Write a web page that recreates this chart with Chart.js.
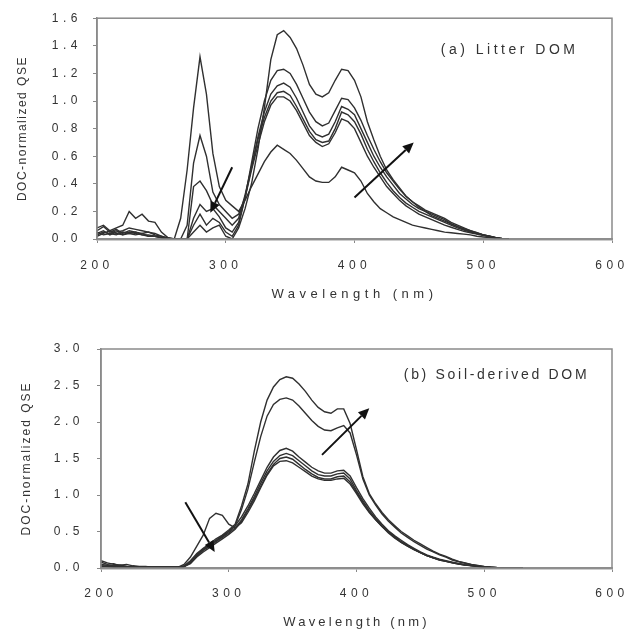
<!DOCTYPE html>
<html>
<head>
<meta charset="utf-8">
<script src="https://cdn.jsdelivr.net/npm/chart.js@4.4.1/dist/chart.umd.min.js"></script>
<style>
body { margin: 0; background: #fff; }
#wrapA { position: absolute; left: 0; top: 0; width: 642px; height: 320px; }
#wrapB { position: absolute; left: 0; top: 320px; width: 642px; height: 310px; }
</style>
</head>
<body>
<div id="wrapA"><canvas id="graphA" width="642" height="320"></canvas></div>
<div id="wrapB"><canvas id="graphB" width="642" height="310"></canvas></div>
<script>
// ---- (a) Litter DOM ----
var wlA = [200,205,210,215,220,225,230,235,240,245,250,255,260,265,270,275,280,285,290,295,
           300,305,310,315,320,325,330,335,340,345,350,355,360,365,370,375,380,385,390,395,
           400,405,410,415,420,425,430,435,440,445,450,455,460,465,470,475,480,485,490,495,
           500,505,510,515,520];
var litter1 = [0.06,0.09,0.05,0.07,0.04,0.06,0.05,0.04,0.05,0.03,0.02,0,0,0.15,0.50,0.95,1.32,1.05,0.62,0.38,
               0.28,0.24,0.20,0.28,0.38,0.47,0.56,0.63,0.68,0.65,0.62,0.57,0.51,0.45,0.42,0.41,0.41,0.45,0.52,0.50,
               0.48,0.42,0.33,0.27,0.22,0.19,0.16,0.14,0.12,0.10,0.09,0.08,0.07,0.06,0.05,0.045,0.04,0.035,0.03,0.02,
               0.015,0.01,0.005,0,0];
var litter2 = [0.03,0.05,0.04,0.03,0.05,0.04,0.03,0.04,0.02,0.02,0.01,0,0,0,0.10,0.55,0.75,0.60,0.34,0.25,
               0.20,0.15,0.18,0.30,0.50,0.68,0.85,0.97,1.03,1.03,1.00,0.93,0.84,0.75,0.70,0.67,0.69,0.77,0.87,0.85,
               0.80,0.70,0.60,0.52,0.45,0.38,0.33,0.28,0.24,0.21,0.18,0.16,0.14,0.12,0.10,0.085,0.07,0.055,0.045,0.035,
               0.025,0.015,0.008,0.002,0];
var litter3 = [0.02,0.04,0.06,0.04,0.03,0.05,0.04,0.03,0.03,0.02,0.01,0,0,0,0,0.38,0.42,0.35,0.25,0.20,
               0.15,0.10,0.15,0.32,0.52,0.72,0.88,1.00,1.06,1.07,1.04,0.96,0.87,0.78,0.72,0.70,0.71,0.80,0.92,0.90,
               0.85,0.76,0.65,0.56,0.48,0.41,0.35,0.30,0.26,0.23,0.20,0.18,0.16,0.14,0.12,0.10,0.08,0.065,0.05,0.04,
               0.03,0.018,0.008,0.002,0];
var litter4 = [0.05,0.03,0.04,0.06,0.03,0.04,0.05,0.03,0.02,0.02,0.01,0,0,0,0,0.15,0.25,0.20,0.22,0.16,
               0.08,0.05,0.12,0.30,0.52,0.74,0.92,1.05,1.11,1.13,1.10,1.02,0.92,0.82,0.76,0.74,0.76,0.85,0.96,0.94,
               0.90,0.80,0.70,0.60,0.52,0.45,0.39,0.33,0.29,0.25,0.22,0.20,0.18,0.16,0.14,0.11,0.09,0.07,0.055,0.04,
               0.03,0.02,0.01,0.003,0];
var litter5 = [0.04,0.06,0.03,0.05,0.06,0.08,0.07,0.06,0.05,0.04,0.02,0.01,0,0,0,0.10,0.18,0.10,0.15,0.12,
               0.05,0.02,0.10,0.30,0.55,0.80,1.00,1.15,1.22,1.23,1.20,1.12,1.02,0.92,0.85,0.82,0.84,0.93,1.02,1.01,
               0.95,0.86,0.75,0.65,0.56,0.48,0.42,0.36,0.31,0.27,0.24,0.21,0.19,0.17,0.15,0.12,0.10,0.08,0.06,0.045,
               0.03,0.02,0.01,0.003,0];
var litter6 = [0.08,0.10,0.06,0.08,0.10,0.20,0.15,0.18,0.13,0.12,0.05,0.01,0,0,0,0.05,0.10,0.05,0.08,0.10,
               0.02,0,0.08,0.22,0.40,0.65,0.95,1.30,1.48,1.51,1.46,1.38,1.26,1.12,1.05,1.03,1.06,1.15,1.23,1.22,
               1.15,1.03,0.85,0.72,0.60,0.50,0.43,0.37,0.31,0.27,0.23,0.20,0.17,0.15,0.13,0.11,0.09,0.075,0.06,0.045,
               0.03,0.02,0.008,0.002,0];

// ---- (b) Soil-derived DOM ----
var wlB = [200,205,210,215,220,225,230,235,240,245,250,255,260,265,270,275,280,285,290,295,
           300,305,310,315,320,325,330,335,340,345,350,355,360,365,370,375,380,385,390,395,
           400,405,410,415,420,425,430,435,440,445,450,455,460,465,470,475,480,485,490,495,
           500,505,510,515,520,525,530];
var soil1 = [0.08,0.05,0.06,0.03,0.02,0.02,0.01,0.01,0.01,0.01,0.01,0.01,0.01,0.03,0.10,0.20,0.27,0.33,0.40,0.45,
             0.52,0.60,0.85,1.15,1.60,2.00,2.30,2.48,2.58,2.62,2.60,2.52,2.42,2.30,2.20,2.14,2.12,2.18,2.18,1.98,
             1.62,1.25,1.02,0.88,0.76,0.66,0.58,0.50,0.44,0.38,0.33,0.28,0.23,0.19,0.16,0.12,0.09,0.07,0.05,0.035,
             0.02,0.012,0.006,0.002,0,0,0];
var soil2 = [0.05,0.04,0.03,0.04,0.02,0.01,0.01,0.01,0.01,0.01,0.01,0.01,0.01,0.02,0.08,0.18,0.25,0.31,0.37,0.43,
             0.50,0.58,0.80,1.08,1.45,1.80,2.08,2.24,2.31,2.33,2.30,2.22,2.12,2.02,1.94,1.89,1.88,1.92,1.95,1.85,
             1.55,1.22,1.00,0.86,0.74,0.64,0.56,0.48,0.42,0.36,0.31,0.26,0.22,0.18,0.15,0.11,0.085,0.065,0.045,0.03,
             0.018,0.01,0.005,0.002,0,0,0];
var soil3 = [0.03,0.02,0.02,0.01,0.01,0.01,0.01,0.01,0.01,0.01,0.01,0.01,0.01,0.02,0.08,0.18,0.26,0.32,0.38,0.44,
             0.50,0.58,0.70,0.85,1.02,1.20,1.38,1.52,1.61,1.64,1.60,1.52,1.45,1.38,1.33,1.30,1.30,1.33,1.34,1.26,
             1.10,0.95,0.82,0.70,0.60,0.51,0.44,0.38,0.32,0.27,0.22,0.18,0.15,0.12,0.10,0.08,0.06,0.045,0.035,0.025,
             0.015,0.01,0.005,0.002,0,0,0];
var soil4 = [0.02,0.03,0.02,0.02,0.01,0.01,0.01,0.01,0.01,0.01,0.01,0.01,0.01,0.02,0.07,0.16,0.24,0.30,0.36,0.42,
             0.48,0.55,0.66,0.81,0.98,1.16,1.33,1.46,1.54,1.57,1.54,1.47,1.40,1.33,1.28,1.26,1.26,1.29,1.30,1.22,
             1.06,0.92,0.79,0.68,0.58,0.50,0.43,0.36,0.31,0.26,0.21,0.17,0.14,0.115,0.095,0.075,0.058,0.043,0.033,0.023,
             0.014,0.009,0.004,0.001,0,0,0];
var soil5 = [0.02,0.02,0.01,0.01,0.01,0.01,0.01,0.01,0.01,0.01,0.01,0.01,0.01,0.02,0.06,0.15,0.22,0.28,0.34,0.40,
             0.46,0.53,0.64,0.79,0.95,1.12,1.29,1.42,1.50,1.52,1.49,1.42,1.35,1.29,1.24,1.22,1.22,1.25,1.26,1.18,
             1.04,0.90,0.77,0.66,0.57,0.49,0.42,0.35,0.30,0.25,0.21,0.17,0.14,0.11,0.09,0.07,0.055,0.042,0.032,0.022,
             0.013,0.008,0.004,0.001,0,0,0];
var soil6 = [0.10,0.07,0.05,0.04,0.05,0.03,0.02,0.02,0.01,0.01,0.01,0.01,0.01,0.05,0.15,0.30,0.45,0.68,0.75,0.72,
             0.60,0.55,0.62,0.76,0.92,1.10,1.27,1.40,1.46,1.47,1.44,1.38,1.32,1.26,1.22,1.20,1.20,1.22,1.23,1.15,
             1.02,0.88,0.76,0.66,0.57,0.48,0.41,0.35,0.30,0.25,0.21,0.17,0.14,0.11,0.09,0.07,0.055,0.04,0.03,0.02,
             0.013,0.008,0.004,0.001,0,0,0];

// arrows: [x from, y from, x to, y to] in data units
var arrowsA = [[305, 0.52, 288, 0.19], [400, 0.30, 446, 0.70]];
var arrowsB = [[266, 0.90, 289, 0.22], [373, 1.55, 410, 2.19]];

var xTitle = 'Wavelength (nm)';
var yTitle = 'DOC-normalized QSE';
var fontFam = '"Liberation Sans", Arial, sans-serif';

function toPoints(wl, vals) {
    return wl.map(function (w, i) { return { x: w, y: vals[i] }; });
}

var decoPlugin = {
    id: 'deco',
    beforeDraw: function (chart) {
        chart.ctx.letterSpacing = chart.options.plugins.deco.tickSpacing;
    },
    afterDraw: function (chart) {
        var o = chart.options.plugins.deco;
        var ctx = chart.ctx, a = chart.chartArea;
        var xs = chart.scales.x, ys = chart.scales.y;
        ctx.save();
        // frame
        ctx.letterSpacing = '0px';
        ctx.strokeStyle = '#8a8a8a';
        ctx.lineWidth = 1.5;
        ctx.strokeRect(a.left, a.top, a.right - a.left, a.bottom - a.top);
        // arrows
        ctx.strokeStyle = '#111';
        ctx.fillStyle = '#111';
        ctx.lineWidth = 2;
        o.arrows.forEach(function (ar) {
            var x1 = xs.getPixelForValue(ar[0]), y1 = ys.getPixelForValue(ar[1]);
            var x2 = xs.getPixelForValue(ar[2]), y2 = ys.getPixelForValue(ar[3]);
            var ang = Math.atan2(y2 - y1, x2 - x1), h = 11, w = 5;
            var bx = x2 - h * Math.cos(ang), by = y2 - h * Math.sin(ang);
            ctx.beginPath();
            ctx.moveTo(x1, y1);
            ctx.lineTo(bx, by);
            ctx.stroke();
            ctx.beginPath();
            ctx.moveTo(x2, y2);
            ctx.lineTo(bx + w * Math.sin(ang), by - w * Math.cos(ang));
            ctx.lineTo(bx - w * Math.sin(ang), by + w * Math.cos(ang));
            ctx.closePath();
            ctx.fill();
        });
        // panel label
        ctx.fillStyle = '#333';
        ctx.textBaseline = 'middle';
        ctx.textAlign = 'left';
        ctx.font = '14px ' + fontFam;
        ctx.letterSpacing = o.labelSpacing;
        ctx.fillText(o.label, xs.getPixelForValue(o.labelAt[0]), ys.getPixelForValue(o.labelAt[1]));
        // x title
        ctx.textAlign = 'center';
        ctx.font = '13px ' + fontFam;
        ctx.letterSpacing = o.xTitleSpacing;
        ctx.fillText(xTitle, (a.left + a.right) / 2, o.xTitleY);
        // y title
        ctx.translate(o.yTitleX, (a.top + a.bottom) / 2);
        ctx.rotate(-Math.PI / 2);
        ctx.font = '12px ' + fontFam;
        ctx.letterSpacing = o.yTitleSpacing;
        ctx.fillText(yTitle, 0, 0);
        ctx.restore();
        ctx.letterSpacing = '0px';
    }
};

function makeChart(id, wl, series, yMax, yStep, lay) {
    var ctx = document.getElementById(id);
    return new Chart(ctx, {
        type: 'line',
        data: {
            datasets: series.map(function (s) {
                return {
                    data: toPoints(wl, s),
                    borderColor: '#303030',
                    borderWidth: 1.4,
                    pointRadius: 0,
                    tension: 0,
                    fill: false
                };
            })
        },
        plugins: [decoPlugin],
        options: {
            responsive: false,
            animation: false,
            events: [],
            layout: { padding: { left: 0, right: 642 - lay.right, top: lay.top, bottom: 0 } },
            plugins: {
                legend: { display: false },
                tooltip: { enabled: false },
                deco: {
                    tickSpacing: '4.5px',
                    arrows: lay.arrows,
                    label: lay.label,
                    labelAt: lay.labelAt,
                    labelSpacing: lay.labelSpacing,
                    xTitleY: lay.xTitleY,
                    xTitleSpacing: lay.xTitleSpacing,
                    yTitleX: lay.yTitleX,
                    yTitleSpacing: lay.yTitleSpacing
                }
            },
            scales: {
                x: {
                    type: 'linear',
                    min: 200,
                    max: 600,
                    afterFit: function (scale) { scale.height = lay.canvasH - lay.bottom; },
                    ticks: { stepSize: 100, color: '#333', font: { size: 12, family: fontFam }, padding: lay.xTickPad, maxRotation: 0 },
                    grid: { drawOnChartArea: false, drawTicks: true, tickLength: 4, color: '#888' },
                    border: { color: '#999', width: 2.5 }
                },
                y: {
                    min: 0,
                    max: yMax,
                    afterFit: function (scale) { scale.width = lay.left; },
                    ticks: {
                        stepSize: yStep,
                        color: '#333',
                        font: { size: 12, family: fontFam },
                        padding: lay.yTickPad,
                        callback: function (v) { return v.toFixed(1); }
                    },
                    grid: { drawOnChartArea: false, drawTicks: true, tickLength: 4, color: '#888' },
                    border: { color: '#888', width: 1.5 }
                }
            }
        }
    });
}

makeChart('graphA', wlA, [litter1, litter2, litter3, litter4, litter5, litter6], 1.6, 0.2, {
    canvasH: 320, left: 97, right: 612, top: 16, bottom: 239,
    xTickPad: 15, yTickPad: 11, arrows: arrowsA,
    label: '(a) Litter DOM', labelAt: [467, 1.37], labelSpacing: '3.5px',
    xTitleY: 294, xTitleSpacing: '4.5px', yTitleX: 23, yTitleSpacing: '1.5px'
});

makeChart('graphB', wlB, [soil1, soil2, soil3, soil4, soil5, soil6], 3.0, 0.5, {
    canvasH: 310, left: 101, right: 612, top: 29, bottom: 248,
    xTickPad: 14, yTickPad: 13, arrows: arrowsB,
    label: '(b) Soil-derived DOM', labelAt: [437, 2.64], labelSpacing: '2.7px',
    xTitleY: 302, xTitleSpacing: '3.2px', yTitleX: 27, yTitleSpacing: '2px'
});
</script>
</body>
</html>
